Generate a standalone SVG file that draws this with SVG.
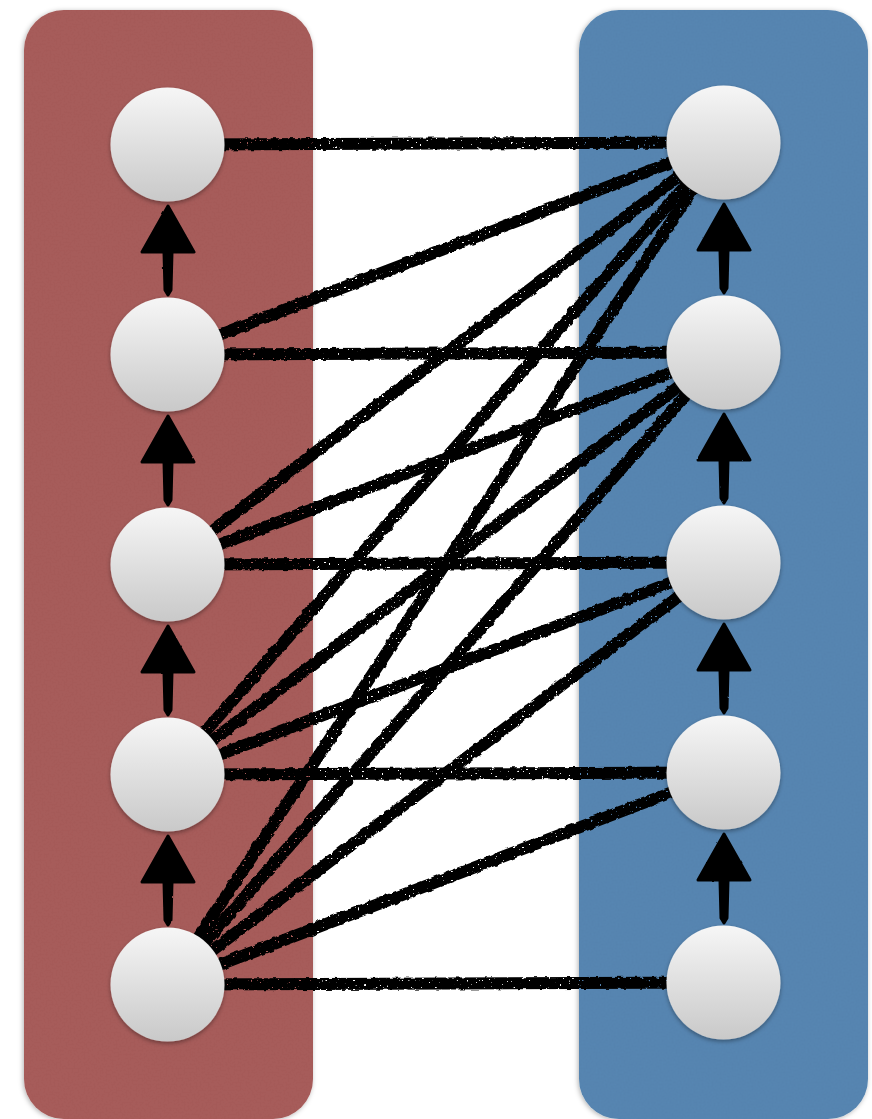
<svg xmlns="http://www.w3.org/2000/svg" width="872" height="1119" viewBox="0 0 872 1119">
  <defs>
    <style>
      .panel-red { fill: #a95d5b; }
      .panel-blue { fill: #5887b3; }
      .node { fill: url(#ballGrad); filter: url(#nodeShadow); }
      .edge { stroke: #000; stroke-width: 12; stroke-linecap: butt; fill: none; }
      .arrow { fill: #000; stroke: #000; stroke-width: 3; stroke-linejoin: round; }
    </style>
    <linearGradient id="ballGrad" x1="0" y1="0" x2="0" y2="1">
      <stop offset="0" stop-color="#f6f6f6"/>
      <stop offset="1" stop-color="#c9c9c9"/>
    </linearGradient>
    <filter id="nodeShadow" x="-20%" y="-20%" width="140%" height="150%">
      <feGaussianBlur in="SourceAlpha" stdDeviation="2"/>
      <feOffset dy="2" result="b"/>
      <feFlood flood-color="#000" flood-opacity="0.35"/>
      <feComposite in2="b" operator="in" result="s"/>
      <feMerge><feMergeNode in="s"/><feMergeNode in="SourceGraphic"/></feMerge>
    </filter>
    <filter id="panelShadow" x="-5%" y="-2%" width="110%" height="104%">
      <feGaussianBlur in="SourceAlpha" stdDeviation="2.5"/>
      <feOffset dx="-1" dy="1" result="b"/>
      <feFlood flood-color="#000" flood-opacity="0.3"/>
      <feComposite in2="b" operator="in" result="s"/>
      <feTurbulence type="fractalNoise" baseFrequency="0.5" numOctaves="3" seed="7" result="grain"/>
      <feColorMatrix in="grain" type="matrix" values="0 0 0 0 0  0 0 0 0 0  0 0 0 0 0  0 0 0 0.07 0" result="g"/>
      <feComposite in="g" in2="SourceGraphic" operator="in" result="tex"/>
      <feMerge><feMergeNode in="s"/><feMergeNode in="SourceGraphic"/><feMergeNode in="tex"/></feMerge>
    </filter>
    <!-- charcoal look: wobbly edges plus a few sparse gaps -->
    <filter id="chalk" filterUnits="userSpaceOnUse" x="0" y="0" width="872" height="1119">
      <feTurbulence type="fractalNoise" baseFrequency="0.18" numOctaves="1" seed="4" result="n"/>
      <feDisplacementMap in="SourceGraphic" in2="n" scale="4" xChannelSelector="R" yChannelSelector="G" result="d"/>
      <feTurbulence type="fractalNoise" baseFrequency="0.45" numOctaves="1" seed="11" result="n2"/>
      <feColorMatrix in="n2" type="matrix" values="0 0 0 0 0  0 0 0 0 0  0 0 0 0 0  -30 0 0 0 22" result="mask"/>
      <feComposite in="d" in2="mask" operator="in"/>
    </filter>
    <filter id="rough" filterUnits="userSpaceOnUse" x="0" y="0" width="872" height="1119">
      <feTurbulence type="fractalNoise" baseFrequency="0.2" numOctaves="1" seed="2" result="n"/>
      <feDisplacementMap in="SourceGraphic" in2="n" scale="2" xChannelSelector="R" yChannelSelector="G"/>
    </filter>
  </defs>

  <!-- columns -->
  <g id="panel-left">
    <rect class="panel-red" x="24" y="10" width="289" height="1109" rx="40" ry="40" filter="url(#panelShadow)"/>
  </g>
  <g id="panel-right">
    <rect class="panel-blue" x="579" y="10" width="289" height="1109" rx="40" ry="40" filter="url(#panelShadow)"/>
  </g>

  <!-- connectors: each left node links to the right nodes at or above its row -->
  <g id="connectors" filter="url(#chalk)">
    <g class="edges">
      <line class="edge" x1="167.5" y1="144.5" x2="723.5" y2="142.5"/>
      <line class="edge" x1="167.5" y1="354.5" x2="723.5" y2="142.5"/>
      <line class="edge" x1="167.5" y1="354.5" x2="723.5" y2="352.5"/>
      <line class="edge" x1="167.5" y1="564.5" x2="723.5" y2="142.5"/>
      <line class="edge" x1="167.5" y1="564.5" x2="723.5" y2="352.5"/>
      <line class="edge" x1="167.5" y1="564.5" x2="723.5" y2="562.5"/>
      <line class="edge" x1="167.5" y1="774.5" x2="723.5" y2="142.5"/>
      <line class="edge" x1="167.5" y1="774.5" x2="723.5" y2="352.5"/>
      <line class="edge" x1="167.5" y1="774.5" x2="723.5" y2="562.5"/>
      <line class="edge" x1="167.5" y1="774.5" x2="723.5" y2="772.5"/>
      <line class="edge" x1="167.5" y1="984.5" x2="723.5" y2="142.5"/>
      <line class="edge" x1="167.5" y1="984.5" x2="723.5" y2="352.5"/>
      <line class="edge" x1="167.5" y1="984.5" x2="723.5" y2="562.5"/>
      <line class="edge" x1="167.5" y1="984.5" x2="723.5" y2="772.5"/>
      <line class="edge" x1="167.5" y1="984.5" x2="723.5" y2="982.5"/>
    </g>
  </g>

  <!-- vertical arrows inside each column -->
  <g id="arrows" filter="url(#rough)">
    <g id="arrows-left">
      <path class="arrow" d="M168 206 L194 252 L142 252 Z M164 252 L172 252 L171 290 L168 295 L165 290 Z"/>
      <path class="arrow" d="M168 416 L194 462 L142 462 Z M164 462 L172 462 L171 500 L168 505 L165 500 Z"/>
      <path class="arrow" d="M168 626 L194 672 L142 672 Z M164 672 L172 672 L171 710 L168 715 L165 710 Z"/>
      <path class="arrow" d="M168 836 L194 882 L142 882 Z M164 882 L172 882 L171 920 L168 925 L165 920 Z"/>
    </g>
    <g id="arrows-right">
      <path class="arrow" d="M724 204 L750 250 L698 250 Z M720 250 L728 250 L727 288 L724 293 L721 288 Z"/>
      <path class="arrow" d="M724 414 L750 460 L698 460 Z M720 460 L728 460 L727 498 L724 503 L721 498 Z"/>
      <path class="arrow" d="M724 624 L750 670 L698 670 Z M720 670 L728 670 L727 708 L724 713 L721 708 Z"/>
      <path class="arrow" d="M724 834 L750 880 L698 880 Z M720 880 L728 880 L727 918 L724 923 L721 918 Z"/>
    </g>
  </g>

  <!-- nodes -->
  <g id="left-1"><circle class="node" cx="167.5" cy="144.5" r="57"/></g>
  <g id="left-2"><circle class="node" cx="167.5" cy="354.5" r="57"/></g>
  <g id="left-3"><circle class="node" cx="167.5" cy="564.5" r="57"/></g>
  <g id="left-4"><circle class="node" cx="167.5" cy="774.5" r="57"/></g>
  <g id="left-5"><circle class="node" cx="167.5" cy="984.5" r="57"/></g>
  <g id="right-1"><circle class="node" cx="723.5" cy="142.5" r="57"/></g>
  <g id="right-2"><circle class="node" cx="723.5" cy="352.5" r="57"/></g>
  <g id="right-3"><circle class="node" cx="723.5" cy="562.5" r="57"/></g>
  <g id="right-4"><circle class="node" cx="723.5" cy="772.5" r="57"/></g>
  <g id="right-5"><circle class="node" cx="723.5" cy="982.5" r="57"/></g>
</svg>
